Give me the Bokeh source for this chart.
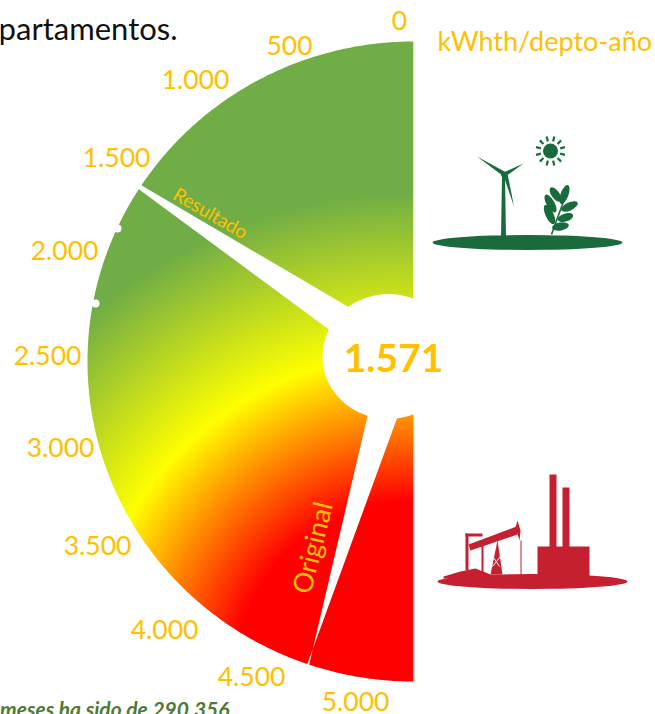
import numpy as np
from bokeh.core.properties import value
from bokeh.embed import file_html
from bokeh.models import Range1d
from bokeh.plotting import figure
from bokeh.resources import INLINE

# ---- data
tick_values = [0, 500, 1000, 1500, 2000, 2500, 3000, 3500, 4000, 4500, 5000]
tick_labels = ["0", "500", "1.000", "1.500", "2.000", "2.500", "3.000", "3.500", "4.000", "4.500", "5.000"]
result_value = 1571
result_label = "1.571"
original_value = 4465
gauge_max = 5000
unit_label = "kWhth/depto-año"

# ---- layout (reference pixels, y downward)
W, H = 655, 714
tick_xy = [(399, 20), (289, 45), (195, 79), (116, 157), (64, 250), (47, 355), (60, 447),
           (97, 545), (164, 629), (251, 676), (355, 701)]
CX, CY, RX, RY = 413, 361, 326, 320
HX, HY, HRX, HRY = 388, 356, 66, 62.5
GOLD = "#FFC000"
FONT = "Lato"
GC = (413, 681)
STOPS_R = [180, 328, 490]
STOPS_C = [(255, 0, 0), (255, 255, 0), (112, 173, 71)]
GREEN = "#1A6B3C"
RED = "#C4202F"


def Y(y):
    return H - np.asarray(y, dtype=float)


p = figure(width=W, height=H, output_backend="svg", toolbar_location=None,
           x_range=Range1d(0, W), y_range=Range1d(0, H), min_border=0)
p.axis.visible = False
p.grid.visible = False
p.outline_line_color = None
p.background_fill_color = "white"
p.border_fill_color = "white"

# gradient
x0, x1, y0, y1 = CX - RX - 2, CX + 1, CY - RY - 2, CY + RY + 2
xs = np.arange(x0, x1) + 0.5
ys = np.arange(y1, y0, -1) - 0.5
gx, gy = np.meshgrid(xs, ys)
d = np.hypot(gx - GC[0], gy - GC[1])
rgba = np.zeros(d.shape, dtype=np.uint32)
view = rgba.view(np.uint8).reshape(d.shape + (4,))
for i in range(3):
    view[..., i] = np.interp(d, STOPS_R, [c[i] for c in STOPS_C]).astype(np.uint8)
view[..., 3] = 255
p.image_rgba(image=[rgba], x=x0, y=float(Y(y1)), dw=x1 - x0, dh=y1 - y0)


def angle(v):
    return np.radians(0.44 + v / gauge_max * 180)


def rim(v, k=1.0):
    t = angle(v)
    return CX - k * RX * np.sin(t), CY - k * RY * np.cos(t)


# white mask outside half ellipse
t = np.radians(np.linspace(0, 180, 361))
ex = CX - RX * np.sin(t)
ey = CY - RY * np.cos(t)
outer_x = [x0 - 3, CX, CX, x0 - 3]
outer_y = [y0 - 3, y0 - 3, y1 + 3, y1 + 3]
p.multi_polygons(xs=[[[outer_x, list(ex)]]], ys=[[[list(Y(outer_y)), list(Y(ey))]]],
                 fill_color="white", line_color=None)
p.segment(x0=[CX + 0.5], y0=[Y(y0 - 3)], x1=[CX + 0.5], y1=[Y(y1 + 3)], line_color="white", line_width=1.5)

# hub
p.ellipse(x=[HX], y=[Y(HY)], width=2 * HRX, height=2 * HRY, fill_color="white", line_color=None)

# needles: white slits pointing to values on the rim
a1x, a1y = rim(result_value - 11, 1.005)
a2x, a2y = rim(result_value + 11, 1.005)
p.patch(x=[a1x, 388, 388, a2x], y=Y([a1y, 330, 373, a2y]), fill_color="white", line_color=None)
b1x, b1y = rim(original_value - 5, 1.005)
b2x, b2y = rim(original_value + 5, 1.005)
p.patch(x=[b2x, 381, 419, b1x], y=Y([b2y, 356, 356, b1y]), fill_color="white", line_color=None)

# tick dots
dx, dy = [117, 95], [228, 303]
p.scatter(x=dx, y=Y(dy), size=8, fill_color="white", line_color=None)


def txt(s, x, y, size, color=GOLD, ang=0, style="normal", align="center", font=FONT):
    p.text(x=[x], y=[float(Y(y))], text=[s], text_font=value(font), text_font_size=f"{size}px",
           text_color=color, angle=[np.radians(ang)], text_align=align, text_baseline="middle",
           text_font_style=style)


for lab, (x, y) in zip(tick_labels, tick_xy):
    txt(lab, x, y, 26.5)
txt(unit_label, 437, 40, 27, align="left")
txt("Resultado", 210.5, 212, 19, ang=-30)
txt("Original", 311, 547, 27, ang=76)
txt(result_label, 393, 357, 39, style="bold")
txt("apartamentos.", 177, 27, 31, color="#111111", align="right")
txt("meses ha sido de 290.356", 229, 708, 21, color="#4F7A36", style="bold italic", align="right")

# green icon
p.ellipse(x=[527], y=[Y(242)], width=190, height=15, fill_color=GREEN, line_color=None)
p.patch(x=[500.5, 505.5, 504.5, 501.5], y=Y([236, 236, 176, 176]), fill_color=GREEN, line_color=None)
p.patch(x=[476.5, 504, 502], y=Y([156, 171, 175]), fill_color=GREEN, line_color=None)
p.patch(x=[523, 505, 503], y=Y([163, 176, 172]), fill_color=GREEN, line_color=None)
p.patch(x=[513.5, 507, 503], y=Y([206, 173, 175]), fill_color=GREEN, line_color=None)
p.ellipse(x=[503.5], y=[Y(174)], width=6, height=6, fill_color=GREEN, line_color=None)
p.ellipse(x=[550], y=[Y(150.5)], width=15, height=15, fill_color=GREEN, line_color=None)
ta = np.radians(np.arange(0, 360, 30) + 15)
p.segment(x0=550 + 10 * np.cos(ta), y0=Y(150.5 + 10 * np.sin(ta)), x1=550 + 15 * np.cos(ta),
          y1=Y(150.5 + 15 * np.sin(ta)), line_color=GREEN, line_width=2.2)
p.line(x=[551, 556, 562, 567], y=Y([234, 220, 204, 188]), line_color=GREEN, line_width=1.6)
lx = [549, 550, 555, 560, 565, 569, 564]
ly = [214, 203, 194, 226, 217, 206, 194]
lw = [21, 20, 17, 17, 16, 18, 20]
la = [-65, -60, -55, 10, 18, 25, 70]
p.ellipse(x=lx, y=Y(ly), width=lw, height=8, angle=np.radians(la), fill_color=GREEN, line_color=None)

# red icon
p.ellipse(x=[532], y=[Y(581)], width=190, height=15, fill_color=RED, line_color=None)
p.quad(left=[537, 549, 562], right=[589, 556, 569], bottom=Y([578, 547, 547]), top=Y([546, 474, 487]),
       fill_color=RED, line_color=None)
p.patch(x=[468, 516, 517, 470], y=Y([544, 526, 534, 550]), fill_color=RED, line_color=None)
p.patch(x=[515, 517, 520, 519], y=Y([527, 520, 530, 540]), fill_color=RED, line_color=None)
p.patch(x=[490, 502, 497], y=Y([574, 574, 540]), fill_color=RED, line_color=None)
p.quad(left=[465, 465, 481, 520], right=[468, 482, 483, 521], bottom=Y([570, 536, 574, 574]),
       top=Y([533, 533, 545, 540]), fill_color=RED, line_color=None)
p.patch(x=[443, 460, 475, 490, 490, 443], y=Y([576, 571, 568, 574, 578, 578]), fill_color=RED, line_color=None)
p.line(x=[492, 500], y=Y([566, 556]), line_color="white", line_width=1)
p.line(x=[493, 499], y=Y([557, 566]), line_color="white", line_width=1)

open("out.html", "w").write(file_html(p, INLINE))
